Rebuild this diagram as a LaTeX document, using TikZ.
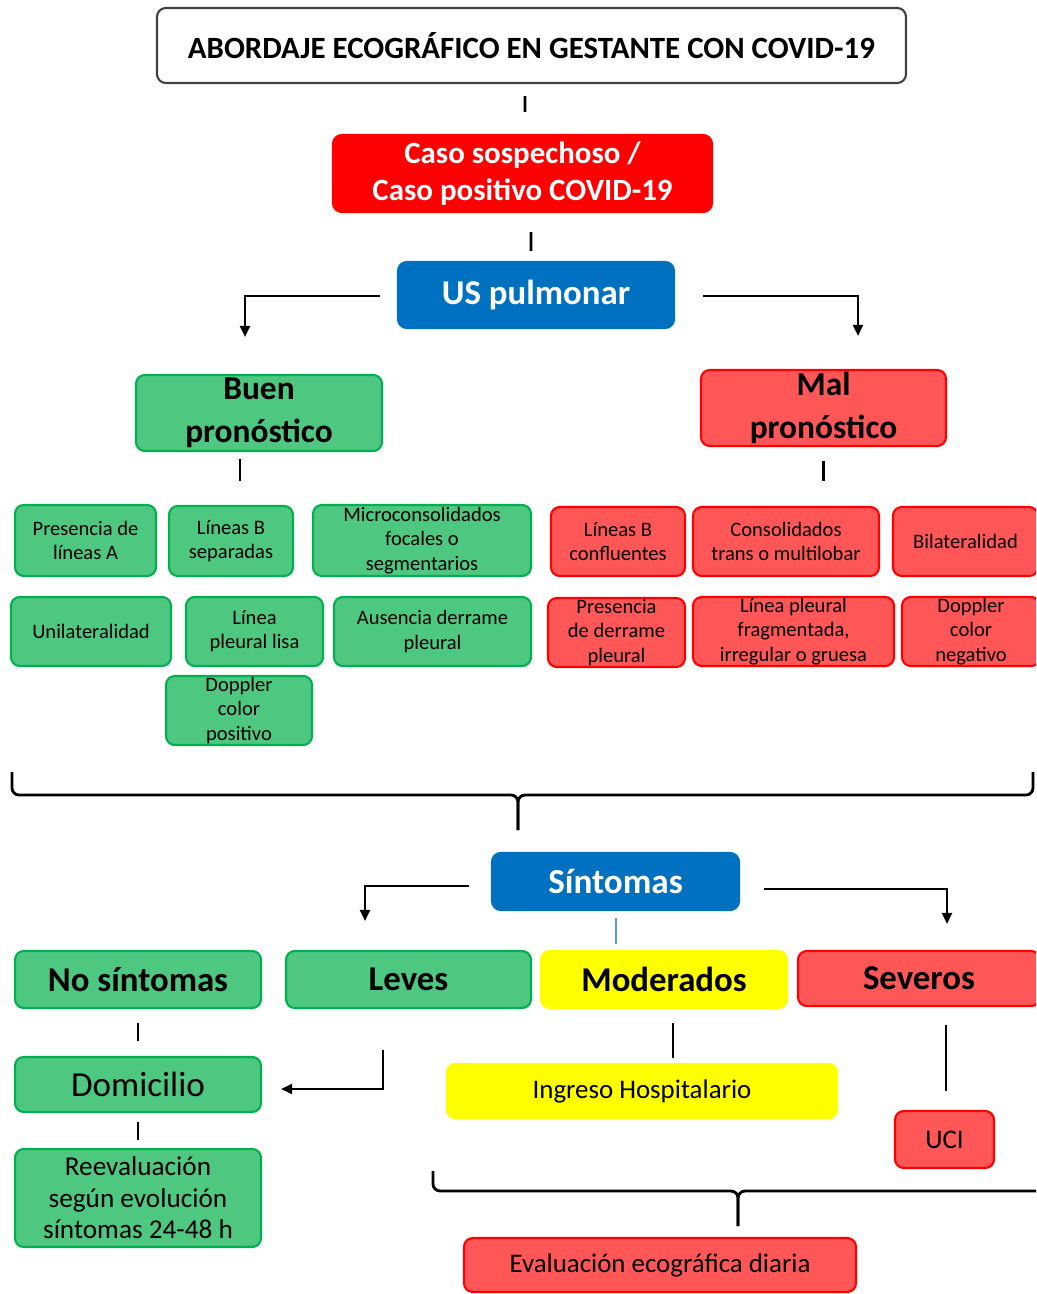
\documentclass[tikz,border=0pt]{standalone}
\usepackage{fontspec}
\setmainfont{Carlito}
\usetikzlibrary{arrows.meta,calc}
\definecolor{okgreen}{RGB}{78,199,128}
\definecolor{okline}{RGB}{0,176,80}
\definecolor{badred}{RGB}{255,87,87}
\definecolor{alertred}{RGB}{255,0,0}
\definecolor{usblue}{RGB}{0,112,192}
\definecolor{modyellow}{RGB}{255,255,0}
\definecolor{tickblue}{RGB}{91,155,213}

\begin{document}
\begin{tikzpicture}[
  x=0.02cm,y=-0.02cm,
  font=\fontsize{11.7}{13.8}\selectfont,
  sz/.style 2 args={minimum width=#1*0.02cm,minimum height=#2*0.02cm},
  base/.style={rounded corners=5pt,line width=1.2pt,align=center,inner sep=0pt},
  headbox/.style={base,draw=black!75,fill=white,font=\fontsize{17.6}{20}\selectfont\bfseries},
  casebox/.style={base,draw=alertred,fill=alertred,text=white,font=\fontsize{17.6}{21.5}\selectfont\bfseries},
  bluebox/.style={base,draw=usblue,fill=usblue,text=white,font=\fontsize{19.8}{22}\selectfont\bfseries},
  goodbig/.style={base,draw=okline,fill=okgreen,font=\fontsize{19}{24.5}\selectfont\bfseries},
  badbig/.style={base,draw=alertred,fill=badred,font=\fontsize{19}{24.5}\selectfont\bfseries},
  goodsmall/.style={base,draw=okline,fill=okgreen},
  badsmall/.style={base,draw=alertred,fill=badred},
  level/.style={font=\fontsize{19.8}{22}\selectfont\bfseries},
  goodnote/.style={base,draw=okline,fill=okgreen,font=\fontsize{15.5}{18}\selectfont},
  badnote/.style={base,draw=alertred,fill=badred,font=\fontsize{15.3}{17}\selectfont},
  link/.style={line width=1.5pt},
  arrow/.style={line width=1.3pt,-{Triangle[length=2.2mm,width=2mm]}},
  brace/.style={line width=1.6pt,rounded corners=4pt}
]
\useasboundingbox (0,0) rectangle (1036,1294);
\clip (0,0) rectangle (1036,1294);

% cabecera
\node[headbox,sz={749}{75}] (title) at (531.5,45.5) {ABORDAJE ECOGRÁFICO EN GESTANTE CON COVID-19};
\node[casebox,sz={379}{77}] (caso) at (522.5,173.5) {Caso sospechoso /\\Caso positivo COVID-19};
\node[bluebox,sz={276}{66}] (us) at (536,295) {US pulmonar};
\node[goodbig,sz={246}{76}] (buen) at (259,413) {Buen\\pronóstico};
\node[badbig,sz={245}{76}] (mal) at (823.5,408) {Mal\\pronóstico};

% hallazgos buen pronostico
\node[goodsmall,sz={141}{71}] (lineasA) at (85.5,540.5) {Presencia de\\líneas A};
\node[goodsmall,sz={124}{70}] (lineasB) at (231,541) {Líneas B\\separadas};
\node[goodsmall,sz={218}{71}] (micro) at (422,540.5) {Microconsolidados\\focales o\\segmentarios};
\node[goodsmall,sz={160}{69}] (unilat) at (91,631.5) {Unilateralidad};
\node[goodsmall,sz={137}{69}] (lisa) at (254.5,631.5) {Línea\\pleural lisa};
\node[goodsmall,sz={197}{69}] (ausencia) at (432.5,631.5) {Ausencia derrame\\pleural};
\node[goodsmall,sz={146}{69}] (dopplerpos) at (239,710.5) {Doppler\\color\\positivo};

% hallazgos mal pronostico
\node[badsmall,sz={134}{69}] (confl) at (618,541.5) {Líneas B\\confluentes};
\node[badsmall,sz={186}{69}] (consol) at (786,541.5) {Consolidados\\trans o multilobar};
\node[badsmall,sz={145}{69}] (bilat) at (965.5,541.5) {Bilateralidad};
\node[badsmall,sz={137}{69}] (derrame) at (616.5,632.5) {Presencia\\de derrame\\pleural};
\node[badsmall,sz={201}{69}] (fragm) at (793.5,631.5) {Línea pleural\\fragmentada,\\irregular o gruesa};
\node[badsmall,sz={138}{69}] (dopplerneg) at (971,631.5) {Doppler\\color\\negativo};

% sintomas
\node[bluebox,sz={247}{57},font=\fontsize{20}{22}\selectfont\bfseries] (sint) at (615.5,881.5) {Síntomas};
\node[goodsmall,level,sz={246}{57}] (nosint) at (138,979.5) {No síntomas};
\node[goodsmall,level,sz={245}{57}] (leves) at (408.5,979.5) {Leves};
\node[base,level,draw=modyellow,fill=modyellow,sz={246}{57}] (mod) at (664,979.5) {Moderados};
\node[badsmall,level,sz={242}{55}] (sev) at (919,978.5) {Severos};

\node[goodsmall,font=\fontsize{20}{24}\selectfont,sz={246}{55}] (domicilio) at (138,1084.5) {Domicilio};
\node[goodnote,sz={246}{98}] (reeval) at (138,1198) {Reevaluación\\según evolución\\síntomas 24-48 h};
\node[base,draw=none,fill=modyellow,font=\fontsize{15.3}{17}\selectfont,sz={392}{56}] (ingreso) at (642,1091) {Ingreso Hospitalario};
\node[badnote,sz={99}{57}] (uci) at (944.5,1139.5) {UCI};
\node[badnote,sz={392}{54}] (eval) at (660,1265) {Evaluación ecográfica diaria};

% conectores
\draw[link] ($(title.south)+(-6.5,12)$) -- ($(caso.north)+(2.5,-22)$);
\draw[link] ($(caso.south)+(8.5,19)$) -- ($(us.north)+(-5,-10)$);
\draw[arrow] ($(us.west)+(-17,1)$) -| ($(buen.north)+(-14,-37)$);
\draw[arrow] ($(us.east)+(28,1)$) -| ($(mal.north)+(34.5,-33)$);
\draw[link] ($(buen.south)+(-19,7)$) -- ++(0,22);
\draw[link] ($(mal.south)+(0,14)$) -- ++(0,20);

% llave de agrupacion
\coordinate (braceL) at (12,772);
\coordinate (braceR) at (1033,772);
\coordinate (braceM) at (518,795);
\draw[brace] (braceL) |- (braceM) -- ++(0,35);
\draw[brace] (braceR) |- (braceM) -- ++(0,35);

\draw[arrow] ($(sint.west)+(-22,4.5)$) -| ($(leves.north)+(-43.5,-29)$);
\draw[arrow] ($(sint.east)+(24,7.5)$) -| ($(sev.north)+(28,-26)$);
\draw[tickblue,line width=1pt] ($(sint.south)+(0.5,7)$) -- ++(0,26);

\draw[link] ($(nosint.south)+(0,14)$) -- ++(0,18);
\draw[link] ($(domicilio.south)+(0,9)$) -- ++(0,18);
\draw[arrow] ($(leves.south)+(-25.5,41)$) |- ($(domicilio.east)+(19,4.5)$);
\draw[link] ($(mod.south)+(9,14)$) -- ++(0,35);
\draw[link] ($(sev.south)+(27,18)$) -- ++(0,66);

% segunda llave
\coordinate (brace2L) at (433,1171);
\coordinate (brace2R) at (1045,1191);
\coordinate (brace2M) at (738,1191);
\draw[brace] (brace2L) |- (brace2M) -- ++(0,35);
\draw[brace] (brace2R) -- (brace2M) -- ++(0,35);
\end{tikzpicture}
\end{document}
